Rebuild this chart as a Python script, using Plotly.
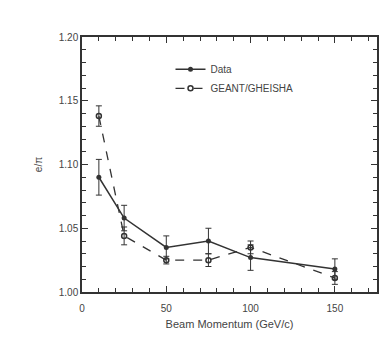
import plotly.graph_objects as go

momentum = [10, 25, 50, 75, 100, 150]
data_vals = [1.090, 1.058, 1.035, 1.040, 1.027, 1.018]
data_err = [0.014, 0.010, 0.009, 0.010, 0.010, 0.008]
geant_vals = [1.138, 1.044, 1.025, 1.025, 1.035, 1.011]
geant_err = [0.008, 0.007, 0.003, 0.005, 0.005, 0.005]

C = "#333333"
fig = go.Figure()
fig.add_trace(go.Scatter(
    x=momentum, y=data_vals, name="Data", mode="lines+markers",
    line=dict(color=C, width=1.5),
    marker=dict(symbol="circle", size=5, color=C),
    error_y=dict(type="data", array=data_err, color=C, thickness=1, width=3),
))
fig.add_trace(go.Scatter(
    x=momentum, y=geant_vals, name="GEANT/GHEISHA", mode="lines+markers",
    line=dict(color=C, width=1.3, dash="dash"),
    marker=dict(symbol="circle-open", size=5, color=C, line=dict(width=1.5)),
    error_y=dict(type="data", array=geant_err, color=C, thickness=1, width=3),
))

FONT = "Liberation Sans, Arial"
axis_common = dict(
    showline=True, linecolor=C, linewidth=1.5, mirror="allticks",
    ticks="inside", ticklen=6, tickcolor=C, tickwidth=1.3,
    showgrid=False, zeroline=False, automargin=False,
    tickfont=dict(family=FONT, size=10, color="#444"),
)
fig.update_xaxes(range=[0, 175], tick0=0, dtick=50, ticklabelstandoff=6, **axis_common,
                 minor=dict(tick0=0, dtick=10, ticks="inside", ticklen=4,
                            tickcolor=C, tickwidth=1.2, showgrid=False),
                 title=dict(text="Beam Momentum (GeV/c)", standoff=8,
                            font=dict(family=FONT, size=11, color="#444")))
fig.update_yaxes(range=[1.0, 1.2], tick0=1.0, dtick=0.05, tickformat=".2f", **axis_common,
                 minor=dict(tick0=1.0, dtick=0.01, ticks="inside", ticklen=4,
                            tickcolor=C, tickwidth=1.2, showgrid=False),
                 title=dict(text="e/π", standoff=14,
                            font=dict(family=FONT, size=10, color="#444")))
fig.update_layout(
    width=391, height=338,
    margin=dict(l=82, r=14, t=37, b=46),
    paper_bgcolor="white", plot_bgcolor="white",
    showlegend=True,
    legend=dict(x=0.3, y=0.93, xanchor="left", yanchor="top",
                bgcolor="rgba(0,0,0,0)",
                font=dict(family=FONT, size=10, color="#444"),
                tracegroupgap=0),
)
fig.write_html("out.html")
